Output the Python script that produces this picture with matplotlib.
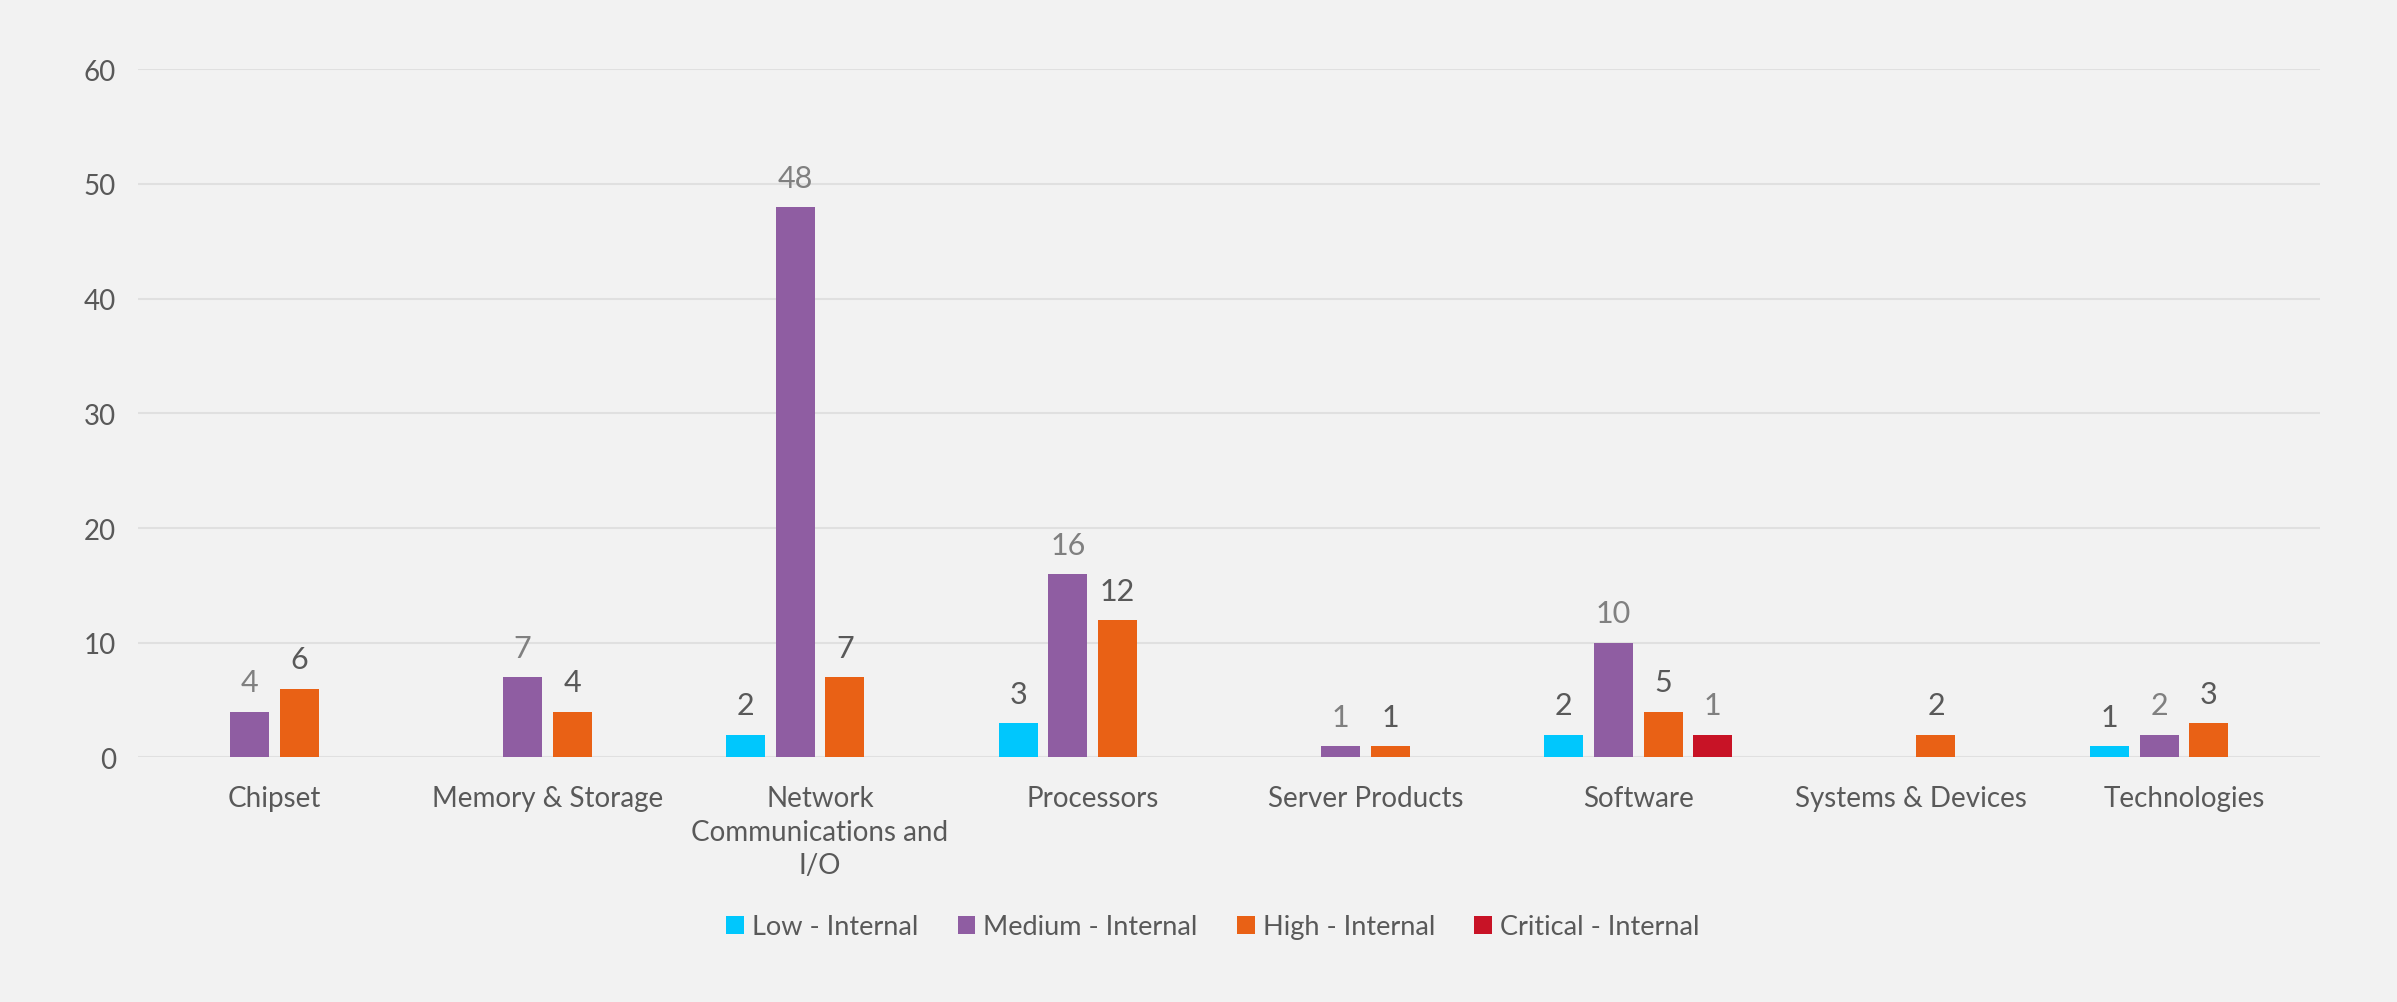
import matplotlib
matplotlib.use("Agg")
import matplotlib.pyplot as plt
import numpy as np

# Data
categories = ["Chipset", "Memory & Storage", "Network\nCommunications and\nI/O", "Processors",
              "Server Products", "Software", "Systems & Devices", "Technologies"]
low = [0, 0, 2, 3, 0, 2, 0, 1]
medium = [4, 7, 48, 16, 1, 10, 0, 2]
high = [6, 4, 7, 12, 1, 4, 2, 3]
critical = [0, 0, 0, 0, 0, 2, 0, 0]

# the data labels in the source do not always match the bar heights (Software)
low_labels = [None, None, "2", "3", None, "2", None, "1"]
medium_labels = ["4", "7", "48", "16", "1", "10", None, "2"]
high_labels = ["6", "4", "7", "12", "1", "5", "2", "3"]
critical_labels = [None, None, None, None, None, "1", None, None]

series = [
    ("Low - Internal", low, low_labels, "#00C7FD", "#595959"),
    ("Medium - Internal", medium, medium_labels, "#8F5DA2", "#808080"),
    ("High - Internal", high, high_labels, "#E96115", "#595959"),
    ("Critical - Internal", critical, critical_labels, "#C81326", "#808080"),
]

plt.rcParams["font.family"] = ["Lato", "DejaVu Sans"]
bg = "#F2F2F2"
text_col = "#595959"

fig = plt.figure(figsize=(23.97, 10.03), dpi=100, facecolor=bg)
ax = fig.add_axes([0.0576, 0.2438, 0.9104, 0.6862], facecolor=bg)

x = np.arange(len(categories))
slot = 0.182
width = 0.143
for i, (name, vals, labels, color, lcol) in enumerate(series):
    pos = x + (i - 1.5) * slot
    for p, v, lab in zip(pos, vals, labels):
        if v:
            ax.bar(p, v, width=width, color=color, zorder=3)
        if lab is not None:
            ax.annotate(lab, (p, v), xytext=(0, 11), textcoords="offset points",
                        ha="center", va="bottom", fontsize=22, color=lcol)
    ax.bar(0, 0, width=0, color=color, label=name)

ax.set_xlim(-0.5, len(categories) - 0.5)
ax.set_ylim(0, 60)
ax.set_yticks(range(0, 61, 10))
ax.grid(axis="y", color="#E0E0E0", linewidth=1.5, zorder=0)
ax.set_axisbelow(True)
for s in ax.spines.values():
    s.set_visible(False)
ax.tick_params(axis="both", length=0, colors=text_col, labelsize=20)
ax.tick_params(axis="y", pad=16)
ax.tick_params(axis="x", pad=20)
ax.set_xticks(x)
ax.set_xticklabels(categories, va="top", linespacing=1.35)

leg = fig.legend(loc="center", bbox_to_anchor=(0.506, 0.075), ncol=4, frameon=False,
                 fontsize=19.5, handlelength=0.65, handleheight=0.65, handletextpad=0.3,
                 columnspacing=1.45)
for t in leg.get_texts():
    t.set_color(text_col)

fig.savefig("out.png", dpi=100, facecolor=bg)
